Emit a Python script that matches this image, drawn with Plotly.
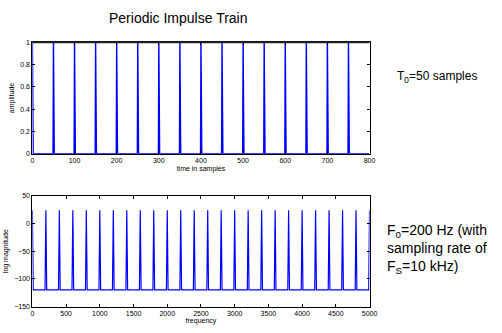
import plotly.graph_objects as go

# Impulse train: unit impulses every T0 = 50 samples over 800 samples
n_samples = 800
impulse_times = [0, 50, 100, 150, 200, 250, 300, 350, 400, 450, 500, 550, 600, 650, 700, 750]
impulse_height = 1.0

# Spectrum (800-point DFT, 12.5 Hz bins): harmonics of F0 = 200 Hz
bin_hz = 12.5
harmonic_freqs = [0, 200, 400, 600, 800, 1000, 1200, 1400, 1600, 1800, 2000, 2200, 2400,
                  2600, 2800, 3000, 3200, 3400, 3600, 3800, 4000, 4200, 4400, 4600, 4800, 5000]
peak_db = 24.08
floor_db = -120.0
f_max = 5000

W, H = 502, 333
def px(x):
    return x / W
def py(y):
    return 1 - y / H

# Build time-domain polyline: zero baseline with a one-sample spike at each impulse
tx, ty = [], []
for t in range(n_samples):
    tx.append(t)
    ty.append(impulse_height if t in impulse_times else 0.0)

# Build spectrum polyline
fx, fy = [], []
k = 0
while k * bin_hz <= f_max:
    f = k * bin_hz
    fx.append(f)
    fy.append(peak_db if f in harmonic_freqs else floor_db)
    k += 1

blue = "#0000ff"
fig = go.Figure()
fig.add_trace(go.Scatter(x=tx, y=ty, mode="lines", line=dict(color=blue, width=1.4),
                         xaxis="x", yaxis="y", hoverinfo="skip"))
fig.add_trace(go.Scatter(x=fx, y=fy, mode="lines", line=dict(color=blue, width=1.2),
                         xaxis="x2", yaxis="y2", hoverinfo="skip"))

font_family = "Liberation Sans, Arial, sans-serif"
axis_common = dict(showline=True, linecolor="black", linewidth=1, mirror="ticks",
                   ticks="inside", ticklen=3, tickcolor="black", showgrid=False,
                   zeroline=False, tickfont=dict(size=7, family=font_family, color="black"))

x_dom = [px(31), px(375)]
fig.update_layout(
    width=W, height=H,
    margin=dict(l=0, r=0, t=0, b=0),
    paper_bgcolor="white", plot_bgcolor="white",
    showlegend=False,
    font=dict(family=font_family, color="black"),
    xaxis=dict(domain=x_dom, range=[0, 800], tickvals=list(range(0, 801, 100)),
               anchor="y", title=dict(text="time in samples", font=dict(size=7), standoff=2),
               **axis_common),
    yaxis=dict(domain=[py(153), py(39)], range=[0, 1], tickvals=[0, 0.2, 0.4, 0.6, 0.8, 1],
               anchor="x", title=dict(text="amplitude", font=dict(size=7), standoff=4),
               **axis_common),
    xaxis2=dict(domain=x_dom, range=[0, 5000], tickvals=list(range(0, 5001, 500)),
                anchor="y2", title=dict(text="frequency", font=dict(size=7), standoff=2),
                **axis_common),
    yaxis2=dict(domain=[py(309), py(196)], range=[-150, 50], tickvals=[-150, -100, -50, 0, 50],
                anchor="x2", title=dict(text="log magnitude", font=dict(size=7), standoff=4),
                **axis_common),
    shapes=[
        # heavier top edge of the upper frame
        dict(type="line", xref="paper", yref="paper", x0=px(31), x1=px(375),
             y0=py(39), y1=py(39), line=dict(color="#222222", width=2)),
    ],
    annotations=[
        dict(text="Periodic Impulse Train", x=px(180), y=py(14), xref="paper", yref="paper",
             showarrow=False, font=dict(size=14), xanchor="center", yanchor="middle"),
        dict(text="T<sub>0</sub>=50 samples", x=px(401), y=py(75), xref="paper", yref="paper",
             showarrow=False, font=dict(size=12), xanchor="left", yanchor="middle"),
        dict(text="F<sub>0</sub>=200 Hz (with<br>sampling rate of<br>F<sub>S</sub>=10 kHz)",
             x=px(391), y=py(250), xref="paper", yref="paper", align="left",
             showarrow=False, font=dict(size=14), xanchor="left", yanchor="middle"),
    ],
)

fig.write_html("out.html")
